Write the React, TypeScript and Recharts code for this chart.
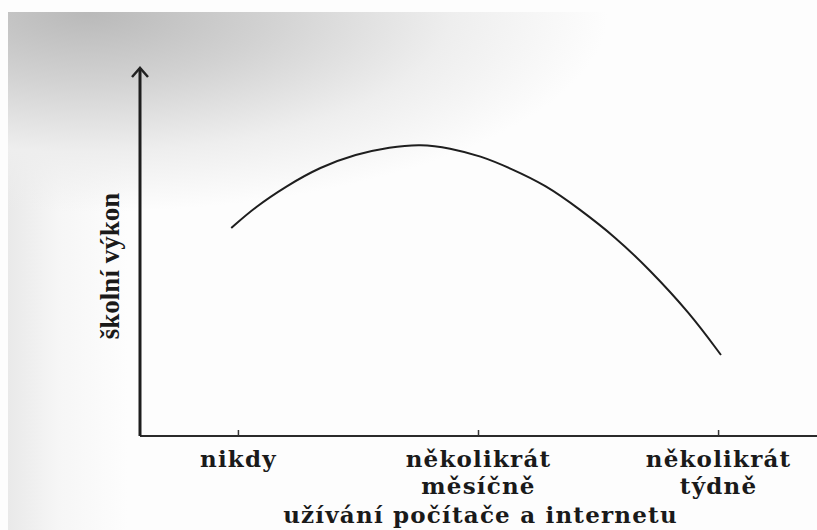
import { LineChart, Line, XAxis, YAxis } from "recharts";

// x positions: 0 = nikdy, 1 = několikrát měsíčně, 2 = několikrát týdně
const categories = ["nikdy", "několikrát\nměsíčně", "několikrát\ntýdně"];
const categoryTicks = [0, 1, 2];

// curve (frequency of use vs. school performance)
const usage = [-0.03, 0.07, 0.2, 0.34, 0.49, 0.63, 0.76, 0.88, 1.01, 1.13, 1.28, 1.42, 1.57, 1.71, 1.88, 2.01];
const performance = [208, 229, 250, 269, 282, 289, 292, 288, 280, 268, 251, 227, 199, 167, 123, 81];

const data = usage.map((u, i) => ({ u, perf: performance[i] }));

const font = "'DejaVu Serif', serif";

function CategoryTick(props: any) {
  const { x, y, payload } = props;
  const lines = categories[payload.value].split("\n");
  return (
    <g>
      <line x1={x} y1={y} x2={x} y2={y - 6} stroke="#333" strokeWidth={1.5} />
      {lines.map((t, i) => (
        <text
          key={i}
          x={x}
          y={y + 31 + i * 27}
          textAnchor="middle"
          fontFamily={font}
          fontWeight="bold"
          fontSize={23}
          letterSpacing={1.2}
          fill="#1a1a1a"
        >
          {t}
        </text>
      ))}
    </g>
  );
}

function XTitle(props: any) {
  const { viewBox } = props;
  return (
    <text
      x={viewBox.x + viewBox.width / 2 + 2}
      y={523}
      textAnchor="middle"
      fontFamily={font}
      fontWeight="bold"
      fontSize={23}
      letterSpacing={1.2}
      fill="#1a1a1a"
    >
      užívání počítače a internetu
    </text>
  );
}

function YTitle(props: any) {
  const { viewBox } = props;
  const ax = viewBox.x + viewBox.width;
  const top = viewBox.y;
  return (
    <g>
      <path
        d={`M${ax - 8},${top + 9} L${ax},${top} L${ax + 8},${top + 9}`}
        fill="none"
        stroke="#222"
        strokeWidth={2.5}
      />
      <text
        x={0}
        y={0}
        transform={`translate(119, 266) rotate(-90)`}
        textAnchor="middle"
        fontFamily="'Liberation Serif', serif"
        fontWeight="bold"
        fontSize={27}
        fill="#1a1a1a"
      >
        školní výkon
      </text>
    </g>
  );
}

export default function App() {
  return (
    <div
      style={{
        position: "absolute",
        left: 0,
        top: 0,
        width: 817,
        height: 530,
        background: "#fdfdfd",
      }}
    >
      <div
        style={{
          position: "absolute",
          left: 8,
          top: 12,
          right: 0,
          bottom: 0,
          background:
            "radial-gradient(ellipse 520px 200px at 80px 0px, #b9b9b9 0%, #d2d2d2 35%, #eeeeee 70%, rgba(253,253,253,0) 100%), linear-gradient(90deg, #e9e9e9 0px, #f6f6f6 50px, rgba(253,253,253,0) 120px)",
        }}
      />
      <div style={{ position: "absolute", left: 0, top: 0 }}>
        <LineChart
          width={817}
          height={530}
          data={data}
          margin={{ top: 68, right: 0, bottom: 0, left: 100 }}
        >
          <XAxis
            dataKey="u"
            type="number"
            domain={[-0.41, 2.41]}
            ticks={categoryTicks}
            tick={<CategoryTick />}
            tickLine={false}
            tickSize={0}
            tickMargin={0}
            height={94}
            axisLine={{ stroke: "#2a2a2a", strokeWidth: 2 }}
            label={<XTitle />}
            allowDataOverflow
          />
          <YAxis
            type="number"
            domain={[0, 368]}
            width={40}
            tick={false}
            tickLine={false}
            axisLine={{ stroke: "#1e1e1e", strokeWidth: 3 }}
            label={<YTitle />}
          />
          <Line
            type="basis"
            dataKey="perf"
            stroke="#1e1e1e"
            strokeWidth={2}
            dot={false}
            isAnimationActive={false}
          />
        </LineChart>
      </div>
    </div>
  );
}
